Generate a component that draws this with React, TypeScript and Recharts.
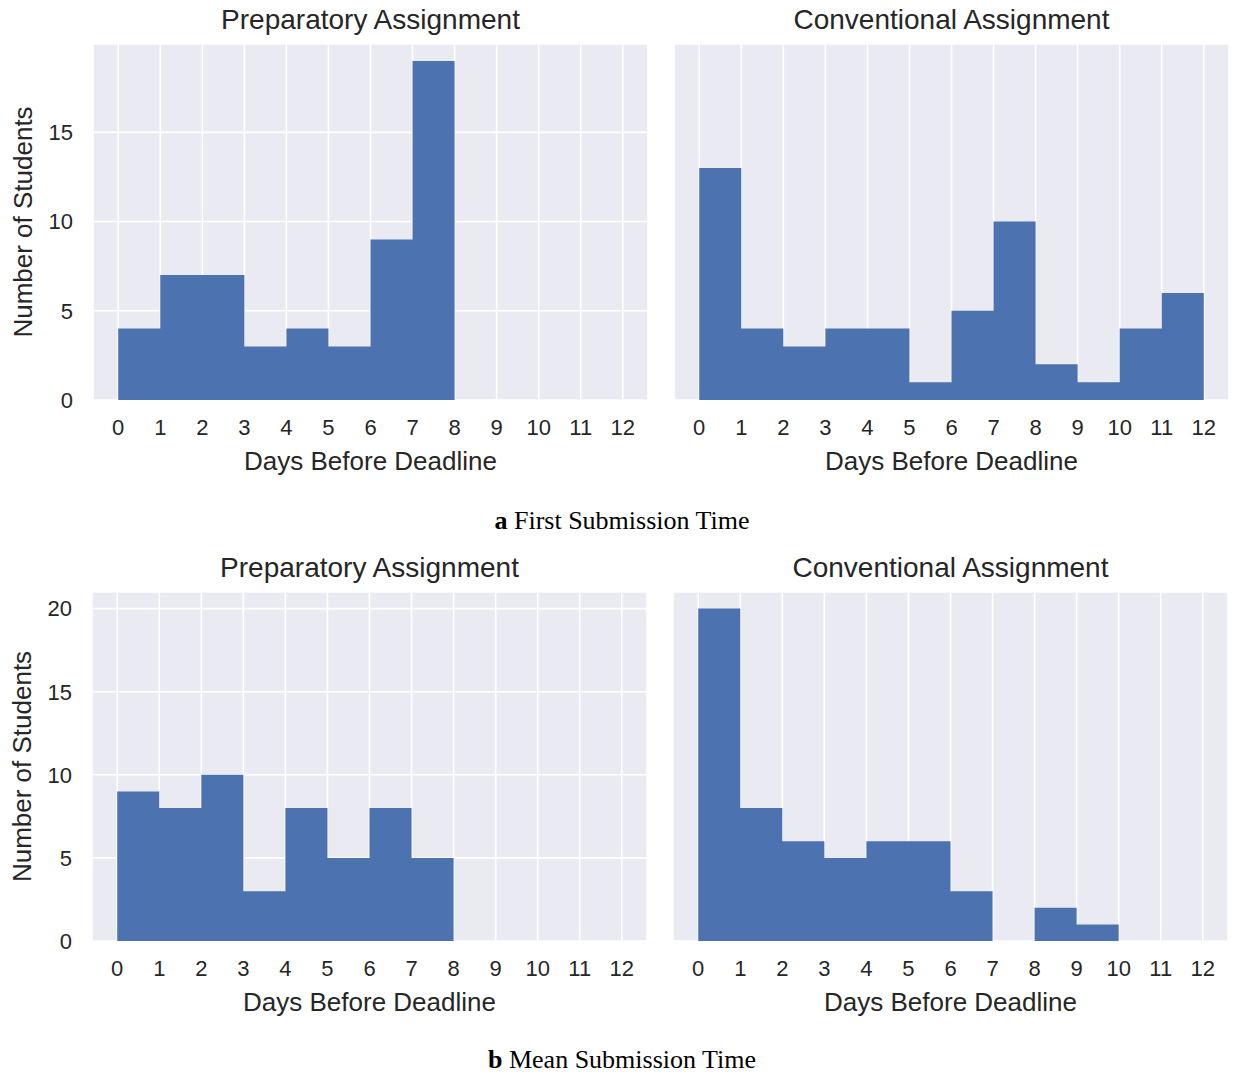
import React from 'react';
import { ComposedChart, Area, XAxis, YAxis, CartesianGrid } from 'recharts';

// bin counts, one per day (bin i spans day i to i+1)
const firstPreparatory = [4, 7, 7, 3, 4, 3, 9, 19];
const firstConventional = [13, 4, 3, 4, 4, 1, 5, 10, 2, 1, 4, 6];
const meanPreparatory = [9, 8, 10, 3, 8, 5, 8, 5];
const meanConventional = [20, 8, 6, 5, 6, 6, 3, 0, 2, 1];

const dayTicks = [0, 1, 2, 3, 4, 5, 6, 7, 8, 9, 10, 11, 12];
const firstTicks = [0, 5, 10, 15];
const meanTicks = [0, 5, 10, 15, 20];

const BAR = '#4C72B0';
const TEXT = '#262626';
const SANS = '"Liberation Sans", Arial, sans-serif';
const SERIF = '"Liberation Serif", "Times New Roman", serif';

// step points at every bin edge; the closing edge repeats the last count
const toSteps = (counts: number[]) =>
    counts
        .map((count, i) => ({ day: i, count }))
        .concat({ day: counts.length, count: counts[counts.length - 1] });

// matplotlib style 5% headroom above the tallest bin, shared across a row
const rowMax = (a: number[], b: number[]) => Math.max(...a, ...b) * 1.05;

interface PanelProps {
    title: string;
    counts: number[];
    yMax: number;
    yTicks: number[];
    showY: boolean;
    left: number;
    top: number;
    plotHeight: number;
}

const PLOT_W = 555;
const AXIS_W = 93;

const Panel: React.FC<PanelProps> = ({ title, counts, yMax, yTicks, showY, left, top, plotHeight }) => {
    const tickStyle = { fill: TEXT, fontSize: 22, fontFamily: SANS };
    const labelStyle = { fill: TEXT, fontSize: 26, fontFamily: SANS };
    return (
        <>
            <div
                style={{
                    position: 'absolute',
                    left,
                    top: top - 40,
                    width: PLOT_W,
                    height: 32,
                    lineHeight: '32px',
                    textAlign: 'center',
                    fontFamily: SANS,
                    fontSize: 28,
                    color: TEXT,
                }}
            >
                {title}
            </div>
            <div style={{ position: 'absolute', left: left - AXIS_W, top: top - 44 }}>
                <ComposedChart
                    width={AXIS_W + PLOT_W + 6}
                    height={44 + plotHeight + 80}
                    data={toSteps(counts)}
                    margin={{ top: 44, right: 6, bottom: 0, left: 0 }}
                >
                    <CartesianGrid fill="#EAEAF2" fillOpacity={1} stroke="#FFFFFF" strokeWidth={1.6} />
                    <XAxis
                        type="number"
                        dataKey="day"
                        domain={[-0.6, 12.6]}
                        ticks={dayTicks}
                        interval={0}
                        height={80}
                        axisLine={false}
                        tickLine={false}
                        tickSize={0}
                        tickMargin={19}
                        tick={tickStyle}
                        label={{ value: 'Days Before Deadline', position: 'insideBottom', offset: 10, ...labelStyle }}
                    />
                    <YAxis
                        type="number"
                        domain={[0, yMax]}
                        ticks={yTicks}
                        interval={0}
                        width={AXIS_W}
                        axisLine={false}
                        tickLine={false}
                        tickSize={0}
                        tickMargin={20}
                        tick={showY ? tickStyle : false}
                        label={
                            showY
                                ? { value: 'Number of Students', angle: -90, position: 'center', dx: -24, ...labelStyle }
                                : undefined
                        }
                    />
                    <Area
                        type="stepAfter"
                        dataKey="count"
                        stroke="none"
                        fill={BAR}
                        fillOpacity={1}
                        dot={false}
                        activeDot={false}
                        isAnimationActive={false}
                    />
                </ComposedChart>
            </div>
        </>
    );
};

const captionStyle: React.CSSProperties = {
    position: 'absolute',
    left: 372,
    width: 500,
    height: 30,
    lineHeight: '30px',
    textAlign: 'center',
    fontFamily: SERIF,
    fontSize: 26,
    color: '#000',
};

export default function App() {
    const firstMax = rowMax(firstPreparatory, firstConventional);
    const meanMax = rowMax(meanPreparatory, meanConventional);
    return (
        <div style={{ position: 'absolute', left: 0, top: 0, width: 1235, height: 1074, background: '#fff' }}>
            <Panel title="Preparatory Assignment" counts={firstPreparatory} yMax={firstMax} yTicks={firstTicks} showY left={93} top={44} plotHeight={356} />
            <Panel title="Conventional Assignment" counts={firstConventional} yMax={firstMax} yTicks={firstTicks} showY={false} left={674} top={44} plotHeight={356} />
            <div style={{ ...captionStyle, top: 506 }}>
                <b>a</b> First Submission Time
            </div>
            <Panel title="Preparatory Assignment" counts={meanPreparatory} yMax={meanMax} yTicks={meanTicks} showY left={92} top={592} plotHeight={349} />
            <Panel title="Conventional Assignment" counts={meanConventional} yMax={meanMax} yTicks={meanTicks} showY={false} left={673} top={592} plotHeight={349} />
            <div style={{ ...captionStyle, top: 1045 }}>
                <b>b</b> Mean Submission Time
            </div>
        </div>
    );
}
